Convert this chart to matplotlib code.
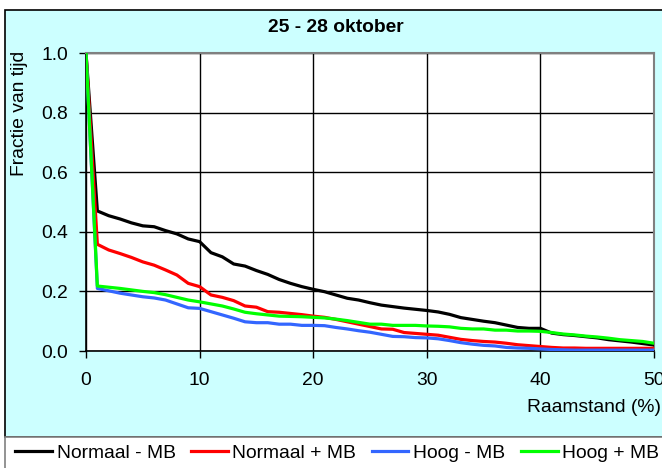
import numpy as np
import matplotlib
matplotlib.use("Agg")
import matplotlib.pyplot as plt
from matplotlib.patches import Rectangle

plt.rcParams["font.family"] = ["Liberation Sans", "DejaVu Sans"]

# raamstand (%)
raamstand = list(range(0, 51))

normaal_min_mb = [1.0, 0.47, 0.454, 0.443, 0.43, 0.42, 0.417, 0.404, 0.393, 0.376,
                  0.367, 0.33, 0.316, 0.292, 0.285, 0.27, 0.257, 0.24, 0.227, 0.216,
                  0.207, 0.199, 0.188, 0.177, 0.171, 0.162, 0.154, 0.149, 0.144, 0.14,
                  0.136, 0.131, 0.123, 0.112, 0.106, 0.1, 0.095, 0.087, 0.079, 0.076,
                  0.076, 0.06, 0.055, 0.052, 0.048, 0.044, 0.038, 0.034, 0.03, 0.025,
                  0.02]
normaal_plus_mb = [1.0, 0.358, 0.339, 0.327, 0.314, 0.299, 0.288, 0.272, 0.255, 0.227,
                   0.216, 0.188, 0.18, 0.169, 0.151, 0.147, 0.132, 0.13, 0.126, 0.122,
                   0.117, 0.113, 0.106, 0.098, 0.09, 0.082, 0.074, 0.073, 0.062, 0.059,
                   0.056, 0.053, 0.046, 0.039, 0.035, 0.032, 0.03, 0.026, 0.021, 0.018,
                   0.015, 0.012, 0.01, 0.01, 0.009, 0.009, 0.009, 0.009, 0.009, 0.009,
                   0.009]
hoog_min_mb = [1.0, 0.21, 0.202, 0.194, 0.188, 0.182, 0.178, 0.171, 0.158, 0.145,
               0.143, 0.132, 0.121, 0.11, 0.098, 0.095, 0.095, 0.09, 0.09, 0.086,
               0.086, 0.085, 0.079, 0.074, 0.068, 0.063, 0.056, 0.049, 0.048, 0.045,
               0.044, 0.041, 0.035, 0.028, 0.023, 0.019, 0.017, 0.012, 0.01, 0.009,
               0.007, 0.005, 0.004, 0.003, 0.003, 0.003, 0.003, 0.003, 0.003, 0.003,
               0.003]
hoog_plus_mb = [1.0, 0.218, 0.214, 0.21, 0.205, 0.2, 0.196, 0.189, 0.18, 0.171,
                0.165, 0.158, 0.151, 0.141, 0.13, 0.125, 0.121, 0.117, 0.116, 0.115,
                0.113, 0.111, 0.107, 0.102, 0.096, 0.09, 0.09, 0.086, 0.086, 0.086,
                0.084, 0.083, 0.081, 0.076, 0.074, 0.074, 0.07, 0.07, 0.067, 0.067,
                0.066, 0.062, 0.057, 0.054, 0.05, 0.047, 0.043, 0.038, 0.035, 0.032,
                0.026]

series = [
    ("Normaal - MB", normaal_min_mb, "#000000"),
    ("Normaal + MB", normaal_plus_mb, "#FF0000"),
    ("Hoog - MB", hoog_min_mb, "#3366FF"),
    ("Hoog + MB", hoog_plus_mb, "#00FF00"),
]

W, H = 662, 468
fs = 13.9

fig = plt.figure(figsize=(W / 100, H / 100), dpi=100)
fig.patch.set_facecolor("white")

# cyan chart area and white legend strip (behind the axes)
fig.patches.append(Rectangle((5 / W, 31 / H), 1.0, (437 - 10) / H, transform=fig.transFigure,
                             facecolor="#CCFFFF", edgecolor="black", lw=1.2, zorder=-10))
fig.patches.append(Rectangle((5 / W, -0.01), 1.0, 31 / H + 0.01, transform=fig.transFigure,
                             facecolor="white", edgecolor="#808080", lw=1.2, zorder=-10))

ax = fig.add_axes([86 / W, (H - 351) / H, (654 - 86) / W, (351 - 53) / H])
ax.set_facecolor("white")
ax.set_zorder(1)

for name, vals, col in series:
    ax.plot(raamstand, vals, color=col, lw=2.3, label=name, zorder=3)

ax.set_xlim(0, 50)
ax.set_ylim(0, 1.0)
ax.set_xticks([0, 10, 20, 30, 40, 50])
ax.set_yticks([0.0, 0.2, 0.4, 0.6, 0.8, 1.0])
ax.set_yticklabels(["0.0", "0.2", "0.4", "0.6", "0.8", "1.0"])
ax.grid(True, color="black", lw=1.0, zorder=1)
ax.set_axisbelow(True)
ax.tick_params(axis="both", labelsize=fs, length=5, width=1, color="black", direction="out")
ax.tick_params(axis="x", pad=10)
ax.tick_params(axis="y", pad=8)

for s in ["top", "right"]:
    ax.spines[s].set_color("#808080")
    ax.spines[s].set_linewidth(1.5)
for s in ["left", "bottom"]:
    ax.spines[s].set_color("black")
    ax.spines[s].set_linewidth(1.2)

fig.text(336 / W, (H - 27) / H, "25 - 28 oktober", ha="center", va="center",
         fontsize=fs, fontweight="bold")
fig.text(20 / W, (H - 113) / H, "Fractie van tijd", ha="center", va="center",
         rotation=90, fontsize=fs)
fig.text(661 / W, (H - 408) / H, "Raamstand (%)", ha="right", va="center", fontsize=fs)

fig.legend(loc="center left", bbox_to_anchor=(15 / W, (H - 453) / H), ncol=4,
           frameon=False, fontsize=fs, handlelength=1.9, handletextpad=0.25,
           columnspacing=0.8, borderpad=0, borderaxespad=0)

fig.savefig("out.png", dpi=100)
